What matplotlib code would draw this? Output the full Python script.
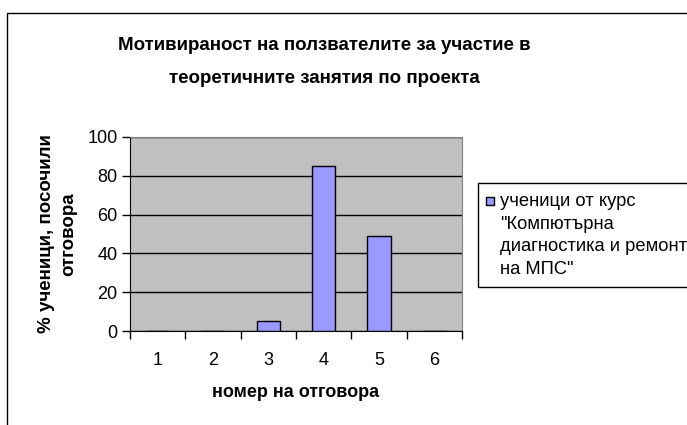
import matplotlib.pyplot as plt
from matplotlib.patches import Rectangle

plt.rcParams['font.family'] = ['Liberation Sans', 'DejaVu Sans']

# данни
answers = ['1', '2', '3', '4', '5', '6']
percent = [0, 0, 5, 85, 49, 0]
series_name = 'ученици от курс\n"Компютърна\nдиагностика и ремонт\nна МПС"'
title = 'Мотивираност на ползвателите за участие в\nтеоретичните занятия по проекта'
xlabel = 'номер на отговора'
ylabel = '% ученици, посочили\nотговора'

W, H = 687, 425
fig = plt.figure(figsize=(W / 100, H / 100), dpi=100)

# рамка на диаграмата (излиза извън картинката вдясно и долу)
fig.patches.append(Rectangle((7 / W, -0.1), 1.2, 1 - 13 / H + 0.1,
                             transform=fig.transFigure, fill=False,
                             edgecolor='black', linewidth=1))

ax = fig.add_axes([130 / W, 1 - 331 / H, 332 / W, 194 / H])
ax.set_facecolor('#C0C0C0')

x = list(range(len(answers)))
ax.bar(x, percent, width=0.42, color='#9999FF', edgecolor='black',
       linewidth=1, zorder=3)

ax.set_xlim(-0.5, len(answers) - 0.5)
ax.set_ylim(0, 100)
ax.set_yticks(range(0, 101, 20))
ax.yaxis.grid(True, color='black', linewidth=1, zorder=1)
ax.set_axisbelow(True)

# деления на границите на категориите, надписи в средата
ax.set_xticks([i - 0.5 for i in range(len(answers) + 1)])
ax.set_xticklabels([])
ax.set_xticks(x, minor=True)
ax.set_xticklabels(answers, minor=True)
ax.tick_params(axis='x', which='major', length=6, width=1, direction='out')
ax.tick_params(axis='x', which='minor', length=0, pad=15, labelsize=13)
ax.tick_params(axis='y', length=6, width=1, direction='out', labelsize=13, pad=3)

for s in ['left', 'bottom']:
    ax.spines[s].set_color('black')
for s in ['top', 'right']:
    ax.spines[s].set_color('#808080')

ax.set_xlabel(xlabel, fontsize=13, fontweight='bold', labelpad=11)
ax.set_ylabel(ylabel, fontsize=13.5, fontweight='bold', labelpad=7,
              linespacing=1.45)

fig.text(324 / W, 1 - 62 / H, title, ha='center', va='center',
         fontsize=13.5, fontweight='bold', linespacing=2.2)

# легенда
fig.patches.append(Rectangle((478 / W, 1 - 287 / H), 0.5, 104 / H,
                             transform=fig.transFigure, facecolor='white',
                             edgecolor='black', linewidth=1))
fig.patches.append(Rectangle((486 / W, 1 - 205 / H), 8 / W, 8 / H,
                             transform=fig.transFigure, facecolor='#9999FF',
                             edgecolor='black', linewidth=1))
fig.text(500 / W, 1 - 193 / H, series_name, ha='left', va='top',
         fontsize=13.2, linespacing=1.43)

fig.savefig('out.png', dpi=100)
